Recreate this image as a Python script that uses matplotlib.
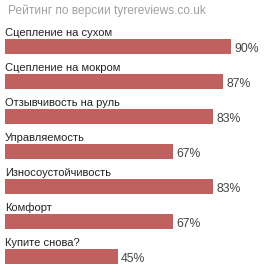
import matplotlib
matplotlib.use("Agg")
import matplotlib.pyplot as plt

title = "Рейтинг по версии tyrereviews.co.uk"
categories = ["Сцепление на сухом", "Сцепление на мокром", "Отзывчивость на руль",
              "Управляемость", "Износоустойчивость", "Комфорт", "Купите снова?"]
values = [90, 87, 83, 67, 83, 67, 45]
value_labels = ["90%", "87%", "83%", "67%", "83%", "67%", "45%"]

W, H = 264, 267
fig = plt.figure(figsize=(W / 100, H / 100), dpi=100)
fig.patch.set_facecolor("white")
ax = fig.add_axes([5 / W, 0, 251 / W, 1])
ax.set_xlim(0, 100)
y0, step = 46.5, 35.0
ax.set_ylim((H - y0) / step, -y0 / step)
ax.axis("off")

font = ["Liberation Sans", "DejaVu Sans"]
pos = list(range(len(categories)))
ax.barh(pos, values, height=15 / step, color="#c0605f", edgecolor="none")
for i, (c, v, lab) in enumerate(zip(categories, values, value_labels)):
    ax.text(0, i - 0.3, c, ha="left", va="baseline", fontsize=8.0,
            color="#222222", family=font)
    ax.text(v + 1.2, i + 0.17, lab, ha="left", va="baseline", fontsize=8.8,
            color="#444444", family=font)

fig.text(8 / W, 1 - 14 / H, title, ha="left", va="baseline", fontsize=8.6,
         color="#a0a0a0", family=font)

fig.savefig("out.png", dpi=100, facecolor="white")
